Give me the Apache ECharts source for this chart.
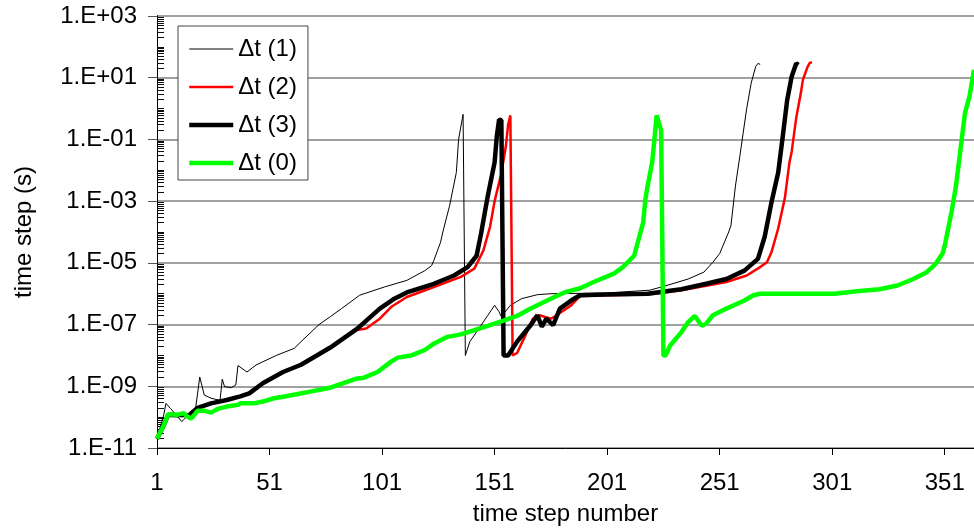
<!DOCTYPE html>
<html>
<head>
<meta charset="utf-8">
<script src="https://cdn.jsdelivr.net/npm/echarts@6/dist/echarts.min.js"></script>
<style>
html,body{margin:0;padding:0;background:#fff;}
#chart{width:974px;height:531px;}
</style>
</head>
<body>
<div id="chart"></div>
<script>
// ---- data (time step number, time step value in s) ----
const seriesNames = ['Δt (1)', 'Δt (2)', 'Δt (3)', 'Δt (0)'];

const xTickValues = [1, 51, 101, 151, 201, 251, 301, 351];
const yTickValues = [1e-11, 1e-9, 1e-7, 1e-5, 1e-3, 1e-1, 1e1, 1e3];
const yTickLabels = ['1.E-11', '1.E-09', '1.E-07', '1.E-05', '1.E-03', '1.E-01', '1.E+01', '1.E+03'];

const dt1 = [[1,2e-11],[4,1.2e-10],[5,2.8e-10],[7,1.9e-10],[9,1.3e-10],[12,7.2e-11],[14,1e-10],[16,1.2e-10],[18,1.6e-10],
  [20,2.0e-9],[22,5.2e-10],[25,4.1e-10],[29,3.5e-10],[30,1.7e-9],[31,9.8e-10],[34,9e-10],[36,1.1e-9],[37,4.7e-9],
  [41,2.9e-9],[45,4.9e-9],[54,1e-8],[62,1.7e-8],[65,2.8e-8],[73,1e-7],[78,1.8e-7],[83,3.3e-7],[91,8.9e-7],
  [102,1.65e-6],[112,2.7e-6],[120,5.6e-6],[123,8.1e-6],[124,1.2e-5],[127,4.7e-5],[128,1e-4],[131,7.1e-4],
  [134,8.5e-3],[135,0.1],[137,0.65],[138,1e-8],[140,2.8e-8],[143,5.8e-8],[148,2e-7],[151,4.2e-7],[153,2.6e-7],
  [154,1.8e-7],[158,4.2e-7],[163,6.9e-7],[170,9.3e-7],[176,1e-6],[200,1.05e-6],[220,1.3e-6],[228,1.9e-6],
  [237,3e-6],[244,5e-6],[248,1.05e-5],[251,2e-5],[255,1e-4],[256,1.6e-4],[258,3.1e-3],[260,3e-2],[263,1],
  [265,6.7],[267,23],[268,29],[269,27]];

const dt2 = [[1,2e-11],[4,5.5e-11],[6,1.2e-10],[10,1.15e-10],[13,1.2e-10],[15,1.1e-10],[17,1.5e-10],[19,2e-10],
  [25,2.8e-10],[32,3.6e-10],[38,4.7e-10],[42,5.9e-10],[48,1.26e-9],[57,2.9e-9],[65,5e-9],[78,1.7e-8],[86,4.5e-8],
  [89,6.6e-8],[94,7.4e-8],[100,1.55e-7],[105,3.7e-7],[112,7.8e-7],[124,1.65e-6],[136,3.5e-6],[142,6.5e-6],
  [146,2.5e-5],[149,1.5e-4],[151,1e-3],[154,8e-3],[156,0.06],[157,0.3],[158,0.6],[159,1e-8],[161,1.2e-8],
  [164,3.5e-8],[168,1.55e-7],[171,2e-7],[176,1.55e-7],[178,1.9e-7],[185,4.2e-7],[189,8.5e-7],[200,9e-7],
  [219,9.5e-7],[234,1.3e-6],[245,1.8e-6],[254,2.4e-6],[263,3.9e-6],[269,7.3e-6],[272,1.05e-5],[274,2.2e-5],
  [277,1.3e-4],[280,1.3e-3],[282,1.8e-2],[283,0.04],[285,0.5],[287,3],[288,8.7],[290,22],[291,30],[292,32]];

const dt3 = [[1,2e-11],[4,5.5e-11],[6,1.2e-10],[10,1.15e-10],[13,1.2e-10],[15,1.1e-10],[17,1.5e-10],[19,2e-10],
  [25,2.8e-10],[32,3.6e-10],[38,4.7e-10],[42,5.9e-10],[48,1.26e-9],[57,2.9e-9],[65,5e-9],[78,1.8e-8],[90,7.4e-8],
  [100,3.3e-7],[106,6.6e-7],[112,1.1e-6],[124,2.1e-6],[133,3.9e-6],[139,7.3e-6],[143,1.7e-5],[145,9e-5],
  [148,1.5e-3],[151,1.8e-2],[152,0.13],[153,0.44],[154,0.42],[155,1e-8],[157,1e-8],[161,2.8e-8],[167,9.5e-8],
  [170,2e-7],[172,8.5e-8],[174,1.55e-7],[177,9.5e-8],[180,3.3e-7],[185,6e-7],[189,8.9e-7],[200,9.5e-7],
  [219,1e-6],[234,1.4e-6],[245,2.1e-6],[254,3e-6],[262,5.6e-6],[268,1.35e-5],[271,7e-5],[274,9e-4],
  [277,8.5e-3],[279,0.12],[281,1.9],[283,11],[285,29],[286,26]];

const dt0 = [[1,2e-11],[4,5.5e-11],[6,1.25e-10],[10,1.2e-10],[13,1.35e-10],[14,1.1e-10],[16,9e-11],[17,1.05e-10],
  [19,1.6e-10],[22,1.6e-10],[25,1.4e-10],[28,1.85e-10],[32,2.2e-10],[37,2.5e-10],[38,2.8e-10],[44,2.8e-10],
  [48,3.2e-10],[53,4.1e-10],[57,4.6e-10],[63,5.5e-10],[69,6.7e-10],[78,9e-10],[90,1.8e-9],[93,1.9e-9],
  [99,2.9e-9],[105,6.3e-9],[108,8.5e-9],[114,1e-8],[120,1.5e-8],[124,2.4e-8],[130,4e-8],[136,4.8e-8],
  [142,6.6e-8],[148,9.1e-8],[154,1.28e-7],[161,1.9e-7],[167,3.3e-7],[176,6.9e-7],[182,1.1e-6],[189,1.5e-6],
  [195,2.4e-6],[204,4.5e-6],[208,7.3e-6],[213,1.7e-5],[215,5.9e-5],[217,2e-4],[218,1.15e-3],[219,3.1e-3],
  [221,1.8e-2],[222,0.1],[223,0.6],[225,0.2],[226,1e-8],[227,1e-8],[229,2.1e-8],[234,5.7e-8],[237,1.2e-7],
  [240,1.9e-7],[243,9.1e-8],[245,1.07e-7],[248,2e-7],[254,3.3e-7],[262,6e-7],[266,8.9e-7],[269,1e-6],
  [302,1e-6],[312,1.2e-6],[322,1.4e-6],[330,1.85e-6],[337,3e-6],[343,5e-6],[347,9.3e-6],[350,2e-5],
  [351,3.6e-5],[354,4.4e-4],[356,3.1e-3],[358,4.8e-2],[360,0.72],[362,2.5],[364,18]];

// ---- minor tick positions on the log axis (1..9 x 10^n) ----
const yMinorTickValues = [];
for (let e = -11; e <= 2; e++) {
  for (let m = 1; m <= 9; m++) {
    const v = Number((m + 'e' + e));
    if (!(m === 1 && (e + 11) % 2 === 0)) yMinorTickValues.push(v);
  }
}

const FONT = 'Liberation Sans, Arial, Helvetica, sans-serif';

function yLabel(v) {
  let best = 0, bd = Infinity;
  yTickValues.forEach((t, i) => {
    const d = Math.abs(Math.log10(t) - Math.log10(v));
    if (d < bd) { bd = d; best = i; }
  });
  return yTickLabels[best];
}

const chart = echarts.init(document.getElementById('chart'), null, {renderer: 'canvas'});
chart.setOption({
  animation: false,
  backgroundColor: '#fff',
  grid: {left: 157, right: 0, top: 16, bottom: 81, containLabel: false},
  legend: {
    orient: 'vertical',
    left: 178, top: 26,
    padding: [11, 11, 5, 9],
    itemGap: 14,
    itemWidth: 44, itemHeight: 14,
    backgroundColor: '#fff',
    borderColor: '#444', borderWidth: 1, borderRadius: 0,
    itemStyle: {opacity: 0, borderWidth: 0},
    lineStyle: {width: 'inherit'},
    textStyle: {fontSize: 24, fontFamily: FONT, color: '#000'},
    data: seriesNames
  },
  xAxis: {
    type: 'value', min: 1, max: 364,
    axisLine: {show: true, onZero: false, lineStyle: {color: '#000', width: 1}},
    axisTick: {show: true, inside: false, length: 7, customValues: xTickValues, lineStyle: {color: '#000'}},
    axisLabel: {customValues: xTickValues, fontSize: 24, fontFamily: FONT, color: '#000', margin: 23},
    splitLine: {show: false},
    name: 'time step number', nameLocation: 'middle', nameGap: 54,
    nameTextStyle: {fontSize: 24, fontFamily: FONT, color: '#000'}
  },
  yAxis: [{
    type: 'log', logBase: 10, min: 1e-11, max: 1e3, position: 'left',
    axisLine: {show: true, lineStyle: {color: '#000', width: 1}},
    axisTick: {show: true, inside: false, length: 9, customValues: yTickValues, lineStyle: {color: '#555'}},
    axisLabel: {customValues: yTickValues, formatter: yLabel, fontSize: 24, fontFamily: FONT, color: '#000', margin: 20},
    splitLine: {show: true, lineStyle: {color: '#808080', width: 1.5}},
    name: 'time step (s)', nameLocation: 'middle', nameGap: 121,
    nameTextStyle: {fontSize: 24, fontFamily: FONT, color: '#000'}
  }, {
    type: 'log', logBase: 10, min: 1e-11, max: 1e3, position: 'left', offset: 0,
    axisLine: {show: true, lineStyle: {color: '#000', width: 1}},
    axisTick: {show: true, inside: true, length: 7, customValues: yMinorTickValues, lineStyle: {color: '#111', width: 1}},
    axisLabel: {show: false},
    splitLine: {show: false}
  }],
  series: [
    {name: seriesNames[0], type: 'line', data: dt1, showSymbol: false, symbol: 'none',
     lineStyle: {color: '#000', width: 1}, itemStyle: {color: '#000'}, z: 2},
    {name: seriesNames[1], type: 'line', data: dt2, showSymbol: false, symbol: 'none',
     lineStyle: {color: '#ff0000', width: 2.5}, itemStyle: {color: '#ff0000'}, z: 3},
    {name: seriesNames[2], type: 'line', data: dt3, showSymbol: false, symbol: 'none',
     lineStyle: {color: '#000', width: 4.5}, itemStyle: {color: '#000'}, z: 4},
    {name: seriesNames[3], type: 'line', data: dt0, showSymbol: false, symbol: 'none',
     lineStyle: {color: '#00ff00', width: 4.5}, itemStyle: {color: '#00ff00'}, z: 5}
  ]
});
</script>
</body>
</html>
